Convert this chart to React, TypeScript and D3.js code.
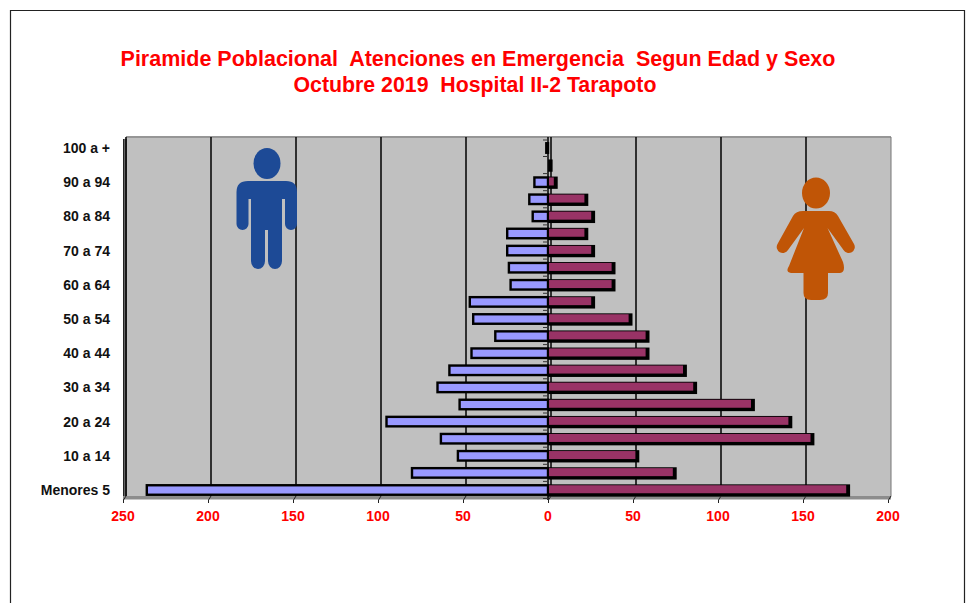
import React from "react";
import * as d3 from "d3";

const ageGroups = ["Menores 5","5 a 9","10 a 14","15 a 19","20 a 24","25 a 29","30 a 34","35 a 39","40 a 44","45 a 49","50 a 54","55 a 59","60 a 64","65 a 69","70 a 74","75 a 79","80 a 84","85 a 89","90 a 94","95 a 99","100 a +"];
const men = [236,80,53,63,95,52,65,58,45,31,44,46,22,23,24,24,9,11,8,0,1];
const women = [176,74,52,155,142,120,86,80,58,58,48,26,38,38,26,22,26,22,4,1,0];
const xTicks = [-250,-200,-150,-100,-50,0,50,100,150,200];
const titleLines = ["Piramide Poblacional  Atenciones en Emergencia  Segun Edad y Sexo","Octubre 2019  Hospital II-2 Tarapoto"];

const W = 968, H = 603;
const x = d3.scaleLinear().domain([-250,200]).range([123,888]);
const y = d3.scalePoint<string>().domain(ageGroups).range([490,148]);
const FONT = "'Liberation Sans', Arial, sans-serif";
const DX = 3;
const TOP = 137, BOTTOM = 500;

export default function App() {
  const barH = 9.5;
  return (
    <svg width={W} height={H} style={{position:"absolute",left:0,top:0,background:"#fff"}} fontFamily={FONT}>
      <path d={`M10.5 ${H} V10.5 H964.5 V${H}`} fill="none" stroke="#222" strokeWidth={1.2}/>
      {titleLines.map((t,i)=>(
        <text key={i} x={i===0?478:475} y={66+i*26} textAnchor="middle" fill="#ff0000" fontWeight={700} fontSize={i===0?21.5:21.3} style={{whiteSpace:"pre"}}>{t}</text>
      ))}
      {/* walls */}
      <polygon points={`${x(-250)},${TOP+3} ${x(-250)+DX+1},${TOP} ${x(200)+DX},${TOP} ${x(200)+DX},${BOTTOM-4} ${x(-250)},${BOTTOM-4}`} fill="#c0c0c0"/>
      <rect x={x(-250)+DX} y={TOP-1} width={x(200)-x(-250)} height={2} fill="#969696"/>
      <rect x={x(-250)} y={TOP+2} width={DX+1} height={BOTTOM-TOP-3} fill="#666"/>
      <line x1={x(-250)+0.5} x2={x(-250)+0.5} y1={TOP+2} y2={BOTTOM} stroke="#222" strokeWidth={1}/>
      <rect x={x(-250)} y={BOTTOM-4} width={x(200)-x(-250)+DX} height={3.5} fill="#8c8c8c"/>
      {/* grid */}
      {xTicks.map(t=>(
        <line key={t} x1={x(t)+DX} x2={x(t)+DX} y1={TOP} y2={BOTTOM-4} stroke={t===200?"#777":"#000"} strokeWidth={t===200?1:1.5}/>
      ))}
      {/* zero axis */}
      <line x1={x(0)} x2={x(0)} y1={TOP} y2={BOTTOM} stroke="#000" strokeWidth={1.5}/>
      {y.domain().map(c=>(
        <line key={c} x1={x(0)-5} x2={x(0)} y1={y(c)!+8.5} y2={y(c)!+8.5} stroke="#333" strokeWidth={1}/>
      ))}
      <line x1={x(0)-5} x2={x(0)} y1={TOP+3} y2={TOP+3} stroke="#333" strokeWidth={1}/>
      {/* bars */}
      {ageGroups.map((c,i)=>{
        const cy = y(c)!;
        return (
          <g key={c}>
            <rect x={x(-men[i])} y={cy-barH/2} width={x(0)-x(-men[i])} height={barH} fill="#9999ff" stroke="#000" strokeWidth={2.4}/>
            <rect x={x(0)+1} y={cy-barH/2} width={x(women[i])-x(0)} height={barH} fill="#000" stroke="#000" strokeWidth={2.8} transform="translate(0.5,0.5)"/>
            <rect x={x(0)+1} y={cy-barH/2} width={Math.max(0,x(women[i])-x(0)-2)} height={barH-1.5} fill="#993366"/>
          </g>
        );
      })}
      {/* x axis ticks */}
      {xTicks.map(t=>(
        <g key={t}>
          <path d={`M${x(t)+0.5} ${BOTTOM+3} V${BOTTOM} L${x(t)+DX} ${BOTTOM-4}`} fill="none" stroke="#222" strokeWidth={1}/>
          <text x={x(t)} y={520.5} textAnchor="middle" fill="#ff0000" fontWeight={700} fontSize={14}>{Math.abs(t)}</text>
        </g>
      ))}
      {/* y labels */}
      {ageGroups.filter((_,i)=>i%2===0).map(c=>(
        <text key={c} x={110} y={y(c)!+5} textAnchor="end" fill="#111" fontWeight={700} fontSize={14}>{c}</text>
      ))}
      {/* man */}
      <g fill="#1d4a96">
        <ellipse cx={267} cy={163.5} rx={13.5} ry={15.5}/>
        <path d="M248 181 H286 Q297 181 297 192 V224 A6 6 0 0 1 285 224 V199 H282 V261 A7 8 0 0 1 268 261 V230 H265 V261 A7 8 0 0 1 251 261 V199 H248.5 V224 A6 6 0 0 1 236.5 224 V192 Q236.5 181 248 181 Z"/>
      </g>
      {/* woman */}
      <g fill="#c05506">
        <ellipse cx={816} cy={193} rx={14} ry={15.5}/>
        <path d="M803 211 H829 Q835 211 838 216 L854 244 A6 6 0 0 1 843.5 250 L827.5 228 L843 262 Q846 272 840 273 H828 V293 Q828 300 820 300 H811 Q803.5 300 803.5 293 V273 H791 Q785 272 789 266 L804 228 L788 250 A6 6 0 0 1 777.5 244 L793 216 Q796 211 803 211 Z"/>
      </g>
    </svg>
  );
}
